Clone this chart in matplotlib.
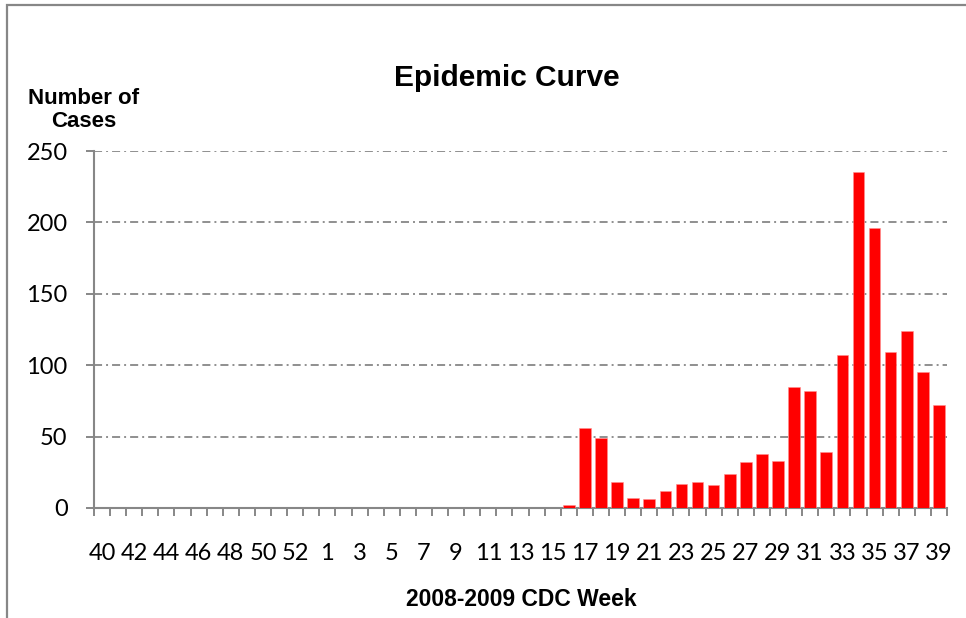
import matplotlib
matplotlib.use("Agg")
import matplotlib.pyplot as plt
from matplotlib.patches import Rectangle

# 2008 MMWR year had 53 weeks
weeks = list(range(40, 54)) + list(range(1, 40))
cases = [0] * 14 + [0] * 15 + [2, 56, 49, 18, 7, 6, 12, 17, 18, 16, 24, 32, 38, 33,
                               85, 82, 39, 107, 235, 196, 109, 124, 95, 72]
yticks = [0, 50, 100, 150, 200, 250]
title = "Epidemic Curve"
xlabel = "2008-2009 CDC Week"
ylabel = "Number of\nCases"

plt.rcParams['lines.scale_dashes'] = False
DPI = 100
W, H = 966, 618
fig = plt.figure(figsize=(W / DPI, H / DPI), dpi=DPI)
ax = fig.add_axes([94 / W, 1 - 508 / H, (947 - 94) / W, (508 - 151) / H])

grey = "#878787"
x = list(range(len(weeks)))
ax.bar(x, cases, width=0.72, color="#FF0000", edgecolor="#FF9090", linewidth=0.4, zorder=3)

ax.set_xlim(-0.5, len(weeks) - 0.5)
ax.set_ylim(0, 250)
ax.set_yticks(yticks)
ax.yaxis.grid(True, color=grey, linewidth=1.3, linestyle=(0, (5.8, 2.9, 1.4, 2.9)), zorder=0)
ax.set_axisbelow(True)

# label ticks at every other category center, boundary ticks as minor
ax.set_xticks(x[::2])
ax.set_xticklabels([str(w) for w in weeks[::2]])
ax.set_xticks([i - 0.5 for i in range(len(weeks) + 1)], minor=True)
ax.tick_params(axis='x', which='major', length=0, pad=25)
ax.tick_params(axis='x', which='minor', length=6, width=1.4, color=grey, direction='out')
ax.tick_params(axis='y', which='major', length=6, width=1.4, color=grey, direction='out', pad=13)

for lab in ax.get_xticklabels() + ax.get_yticklabels():
    lab.set_fontfamily("Lato")
    lab.set_fontsize(17)
    lab.set_color("#000000")

for s in ["top", "right"]:
    ax.spines[s].set_visible(False)
for s in ["left", "bottom"]:
    ax.spines[s].set_color(grey)
    ax.spines[s].set_linewidth(1.5)

fig.text(507 / W, 1 - 78 / H, title, ha="center", va="center",
         fontfamily="Liberation Sans", fontweight="bold", fontsize=21.5)
fig.text(84 / W, 1 - 110 / H, ylabel, ha="center", va="center", linespacing=1.1,
         fontfamily="Liberation Sans", fontweight="bold", fontsize=16)
fig.text(521 / W, 1 - 600 / H, xlabel, ha="center", va="center",
         fontfamily="Liberation Sans", fontweight="bold", fontsize=16.5)

# outer chart border
fig.patches.append(Rectangle((7 / W, -0.05), 1.1, 1 - 5 / H + 0.05, transform=fig.transFigure,
                             fill=False, edgecolor=grey, linewidth=1.6, zorder=10))

fig.savefig("out.png", dpi=DPI)
